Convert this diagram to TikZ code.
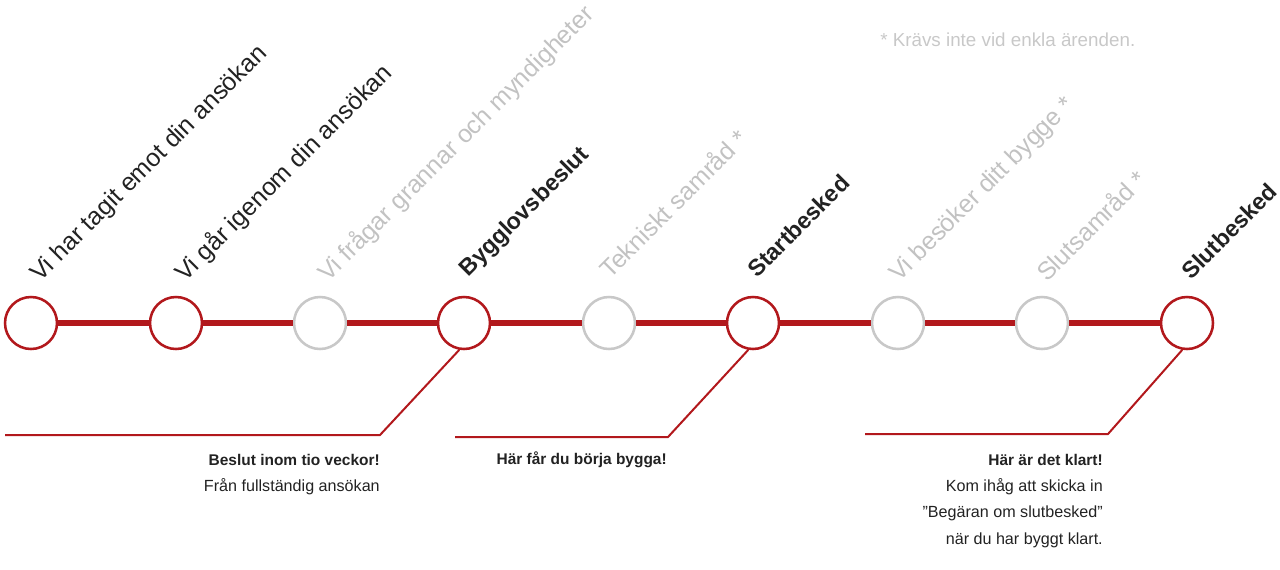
\documentclass[tikz,border=0pt]{standalone}
\usepackage{fontspec}
\setmainfont{Liberation Sans}
\definecolor{bred}{RGB}{178,24,28}
\definecolor{cgray}{RGB}{200,200,200}
\definecolor{tgray}{RGB}{194,194,194}
\definecolor{tdark}{RGB}{34,34,34}
\begin{document}
\begin{tikzpicture}[x=0.75pt,y=-0.75pt,
  stop/.style={circle,draw=bred,line width=1.9pt,minimum size=39pt,inner sep=0pt,fill=white},
  optstop/.style={stop,draw=cgray},
  track/.style={draw=bred,line width=3.9pt},
  callout/.style={draw=bred,line width=1.5pt},
  lbl/.style={anchor=base west,rotate=45,inner sep=0pt,text=tdark,font=\fontsize{18.7}{22}\selectfont},
  lblopt/.style={lbl,text=tgray},
  lblbold/.style={lbl,font=\fontsize{17.4}{20}\selectfont\bfseries},
  captext/.style={anchor=east,inner sep=0pt,text=tdark,font=\fontsize{12.1}{14}\selectfont},
  capbold/.style={captext,font=\fontsize{11.6}{14}\selectfont\bfseries},
  notetext/.style={anchor=west,inner sep=0pt,text=cgray,font=\fontsize{14.1}{16}\selectfont}]
\path[use as bounding box] (0,0) rectangle (1280,569);

% stops
\node[stop]    (c1) at (31,323) {};
\node[stop]    (c2) at (176,323) {};
\node[optstop] (c3) at (320,323) {};
\node[stop]    (c4) at (464,323) {};
\node[optstop] (c5) at (609,323) {};
\node[stop]    (c6) at (753,323) {};
\node[optstop] (c7) at (898,323) {};
\node[optstop] (c8) at (1042,323) {};
\node[stop]    (c9) at (1187,323) {};

% track
\foreach \a/\b in {c1/c2,c2/c3,c3/c4,c4/c5,c5/c6,c6/c7,c7/c8,c8/c9}
  \draw[track] (\a) -- (\b);

% rotated labels
\node[lbl]     (l1) at (40,283) {Vi har tagit emot din ansökan};
\node[lbl]     (l2) at (185,283) {Vi går igenom din ansökan};
\node[lblopt]  (l3) at (328,283) {Vi frågar grannar och myndigheter};
\node[lblbold] (l4) at (468,278) {Bygglovsbeslut};
\node[lblopt]  (l5) at (610,280) {Tekniskt samråd *};
\node[lblbold] (l6) at (757,279) {Startbesked};
\node[lblopt]  (l7) at (899,283) {Vi besöker ditt bygge *};
\node[lblopt]  (l8) at (1047,283) {Slutsamråd *};
\node[lblbold] (l9) at (1191,281) {Slutbesked};

% note
\node[notetext] (n1) at (880,40) {* Krävs inte vid enkla ärenden.};

% callouts
\coordinate (k1) at (380,435);
\coordinate (e1) at (5,435);
\draw[callout] (c4.-100) -- (k1) -- (e1);
\coordinate (k2) at (668,437);
\coordinate (e2) at (455,437);
\draw[callout] (c6.-100) -- (k2) -- (e2);
\coordinate (k3) at (1108,434);
\coordinate (e3) at (865,434);
\draw[callout] (c9.-100) -- (k3) -- (e3);

% captions
\node[capbold] (t1a) at (380,460) {Beslut inom tio veckor!};
\node[captext] (t1b) at (380,487) {Från fullständig ansökan};
\node[capbold] (t2a) at (667,460) {Här får du börja bygga!};
\node[capbold] (t3a) at (1103,460) {Här är det klart!};
\node[captext] (t3b) at (1103,487) {Kom ihåg att skicka in};
\node[captext] (t3c) at (1103,513) {”Begäran om slutbesked”};
\node[captext] (t3d) at (1103,540) {när du har byggt klart.};
\end{tikzpicture}
\end{document}
